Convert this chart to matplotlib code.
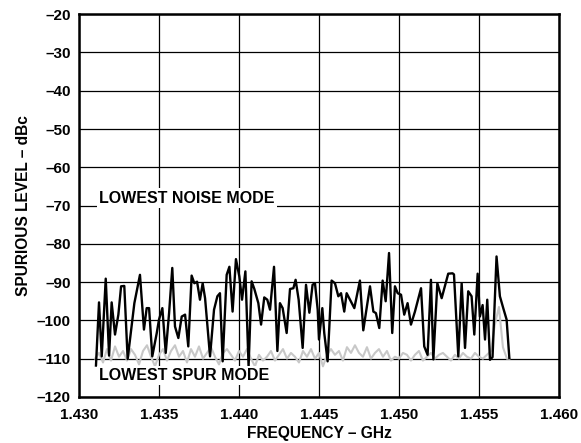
import numpy as np
import matplotlib
matplotlib.use('Agg')
import matplotlib.pyplot as plt

plt.rcParams.update({
    'font.family': ['Liberation Sans', 'DejaVu Sans'],
    'font.weight': 'bold',
})

# lowest noise mode trace (GHz, dBc)
noise_freq = [
    1.43106, 1.43125, 1.43142, 1.43167, 1.43188, 1.43204, 1.43225, 1.43246, 1.43263, 1.43283,
    1.43304, 1.43346, 1.43381, 1.43406, 1.43423, 1.43438, 1.43458, 1.43486, 1.43500, 1.43521,
    1.43542, 1.43563, 1.43583, 1.43600, 1.43621, 1.43642, 1.43663, 1.43683, 1.43704, 1.43721,
    1.43738, 1.43756, 1.43773, 1.43788, 1.43819, 1.43844, 1.43865, 1.43881, 1.43898, 1.43923,
    1.43940, 1.43960, 1.43981, 1.44002, 1.44019, 1.44040, 1.44060, 1.44079, 1.44096, 1.44121,
    1.44138, 1.44158, 1.44177, 1.44194, 1.44219, 1.44240, 1.44256, 1.44273, 1.44298, 1.44319,
    1.44340, 1.44354, 1.44373, 1.44398, 1.44419, 1.44440, 1.44460, 1.44475, 1.44492, 1.44500,
    1.44521, 1.44533, 1.44554, 1.44579, 1.44600, 1.44621, 1.44638, 1.44658, 1.44673, 1.44694,
    1.44721, 1.44756, 1.44777, 1.44798, 1.44819, 1.44840, 1.44856, 1.44877, 1.44898, 1.44917,
    1.44938, 1.44958, 1.44975, 1.44992, 1.45013, 1.45033, 1.45054, 1.45075, 1.45100, 1.45138,
    1.45158, 1.45179, 1.45200, 1.45215, 1.45240, 1.45267, 1.45308, 1.45335, 1.45344, 1.45371,
    1.45392, 1.45413, 1.45433, 1.45454, 1.45471, 1.45492, 1.45506, 1.45523, 1.45538, 1.45552,
    1.45569, 1.45585, 1.45610, 1.45631, 1.45652, 1.45673, 1.45690,
]
noise_db = [
    -111.8, -95.3, -109.4, -89.1, -109.2, -95.3, -103.7, -98.5, -91.1, -91.0,
    -110.1, -95.5, -88.1, -102.4, -96.8, -96.8, -109.4, -103.3, -99.8, -96.8,
    -108.5, -98.1, -86.3, -101.6, -104.6, -99.0, -98.5, -106.8, -88.3, -90.3,
    -89.9, -94.6, -90.3, -94.2, -109.4, -97.2, -93.7, -92.9, -110.7, -88.1,
    -86.0, -97.7, -84.0, -88.5, -94.6, -87.2, -112.0, -89.8, -91.8, -95.5,
    -101.1, -94.0, -94.6, -97.2, -86.0, -108.0, -95.5, -96.8, -103.3, -91.8,
    -91.6, -89.4, -94.6, -107.2, -90.7, -98.0, -90.7, -90.3, -97.2, -105.0,
    -96.8, -103.3, -110.7, -89.6, -90.3, -93.7, -92.9, -97.7, -92.9, -94.6,
    -96.8, -89.6, -102.6, -96.8, -91.1, -97.7, -98.1, -102.0, -89.6, -95.0,
    -82.4, -103.3, -91.1, -92.9, -93.3, -98.5, -95.5, -101.1, -97.7, -91.6,
    -106.8, -109.0, -89.4, -110.2, -90.3, -94.2, -87.8, -87.7, -88.0, -109.4,
    -90.3, -107.2, -92.4, -93.7, -103.7, -87.8, -99.0, -96.0, -105.0, -94.6,
    -110.3, -109.6, -83.3, -93.7, -96.8, -99.8, -109.8,
]

# lowest spur mode trace (GHz, dBc)
spur_freq = [
    1.43100, 1.43125, 1.43150, 1.43175, 1.43200, 1.43225, 1.43250, 1.43275, 1.43300, 1.43325,
    1.43350, 1.43375, 1.43400, 1.43425, 1.43450, 1.43475, 1.43500, 1.43525, 1.43550, 1.43575,
    1.43600, 1.43625, 1.43650, 1.43675, 1.43700, 1.43725, 1.43750, 1.43775, 1.43800, 1.43825,
    1.43850, 1.43875, 1.43900, 1.43925, 1.43950, 1.43975, 1.44000, 1.44025, 1.44050, 1.44075,
    1.44100, 1.44125, 1.44150, 1.44175, 1.44200, 1.44225, 1.44250, 1.44275, 1.44300, 1.44325,
    1.44350, 1.44375, 1.44400, 1.44425, 1.44450, 1.44475, 1.44500, 1.44525, 1.44550, 1.44575,
    1.44600, 1.44625, 1.44650, 1.44675, 1.44700, 1.44725, 1.44750, 1.44775, 1.44800, 1.44825,
    1.44850, 1.44875, 1.44900, 1.44925, 1.44950, 1.44975, 1.45000, 1.45025, 1.45050, 1.45075,
    1.45100, 1.45125, 1.45150, 1.45175, 1.45200, 1.45225, 1.45250, 1.45275, 1.45300, 1.45325,
    1.45350, 1.45375, 1.45400, 1.45425, 1.45450, 1.45475, 1.45500, 1.45525, 1.45550, 1.45575,
    1.45600, 1.45625, 1.45650, 1.45675, 1.45690,
]
spur_db = [
    -110.0, -108.5, -111.0, -107.5, -110.5, -106.8, -109.5, -108.0, -110.5, -107.5,
    -109.0, -111.5, -108.0, -106.5, -109.5, -112.0, -109.0, -107.5, -110.5, -108.0,
    -106.5, -109.5, -108.0, -111.0, -107.5, -109.5, -106.8, -110.0, -108.5, -107.0,
    -109.5, -111.5, -108.5, -107.5, -109.0, -110.5, -108.0, -109.5, -107.5, -110.0,
    -112.0, -109.0, -110.5, -109.5, -108.0, -110.5, -109.0, -107.5, -110.0, -108.5,
    -109.5, -111.0, -108.0, -109.5, -107.5, -110.0, -108.5, -112.0, -109.0, -107.5,
    -109.0, -108.0, -110.5, -107.0, -108.5, -106.5, -108.5, -109.5, -107.0, -110.0,
    -108.5, -107.5, -109.5, -108.0, -110.5, -109.5, -110.0, -108.5, -109.0, -110.5,
    -109.0, -108.0, -110.5, -109.5, -108.5, -110.0, -109.0, -108.5, -109.5, -110.5,
    -109.0, -110.0, -108.5, -109.5, -110.0, -108.5, -109.5, -110.0, -109.0, -108.0,
    -101.0, -96.5, -107.0, -110.0, -110.0,
]

x_ticks = [1.430, 1.435, 1.440, 1.445, 1.450, 1.455, 1.460]
y_ticks = list(range(-120, -10, 10))

fig = plt.figure(figsize=(5.81, 4.43), dpi=100)
ax = fig.add_axes([0.136, 0.104, 0.826, 0.864])

ax.plot(spur_freq, spur_db, color='#c8c8c8', linewidth=1.5, zorder=2)
ax.plot(noise_freq, noise_db, color='black', linewidth=1.7, zorder=3)

ax.set_xlim(1.430, 1.460)
ax.set_ylim(-120, -20)
ax.set_xticks(x_ticks)
ax.set_yticks(y_ticks)
ax.set_xticklabels(['%.3f' % v for v in x_ticks])
ax.set_yticklabels(['\u2013%d' % abs(v) for v in y_ticks])
ax.tick_params(length=0, labelsize=11)
ax.tick_params(axis='x', pad=8)
ax.tick_params(axis='y', pad=6)
for lab in ax.get_xticklabels() + ax.get_yticklabels():
    lab.set_fontweight('bold')

ax.grid(True, color='black', linewidth=0.9, zorder=1)
ax.set_axisbelow(True)
for sp in ax.spines.values():
    sp.set_linewidth(1.8)

ax.set_xlabel('FREQUENCY \u2013 GHz', fontsize=11.2, fontweight='bold', labelpad=3)
ax.set_ylabel('SPURIOUS LEVEL \u2013 dBc', fontsize=11.2, fontweight='bold', labelpad=4)

ax.text(1.43125, -70, 'LOWEST NOISE MODE', fontsize=11.5, fontweight='bold',
        va='bottom', ha='left', zorder=4,
        bbox=dict(facecolor='white', edgecolor='none', pad=1.5))
ax.text(1.43125, -114.5, 'LOWEST SPUR MODE', fontsize=11.5, fontweight='bold',
        va='center', ha='left', zorder=4,
        bbox=dict(facecolor='white', edgecolor='none', pad=1.5))

fig.savefig('out.png', dpi=100)
